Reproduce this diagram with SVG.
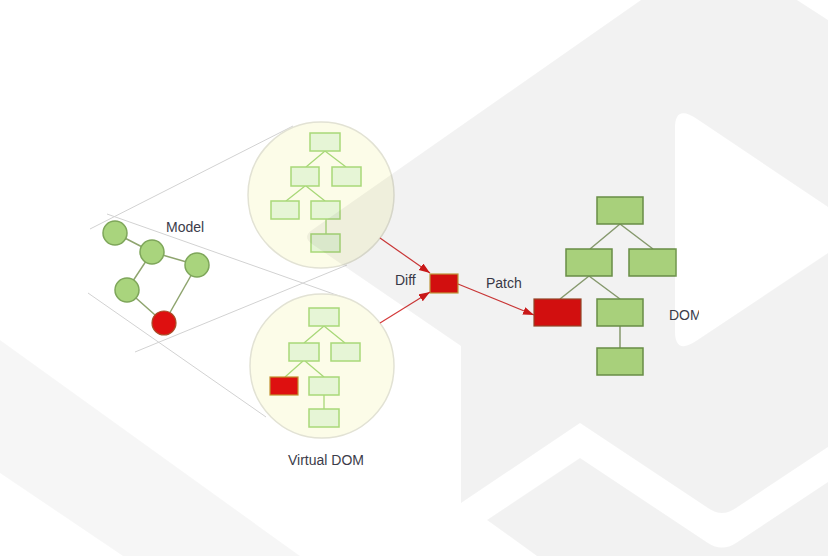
<svg xmlns="http://www.w3.org/2000/svg" width="828" height="556" viewBox="0 0 828 556">
<style>
text{font-family:"Liberation Sans",Arial,sans-serif;font-size:14px;fill:#3c3c4a}
.mc{fill:#a9d47d;stroke:#7ea65a;stroke-width:1.5}
.red{fill:#de1010;stroke:#a8502a;stroke-width:1.2}
.lb{fill:#e6f5d6;stroke:#a8d878;stroke-width:1.5}
.db{fill:#b1dc82;stroke:#6f954b;stroke-width:1.5}
.zoom{fill:#fcfce8;stroke:#e2e2d4;stroke-width:1.5}
.ml{stroke:#8ea46e;stroke-width:1.5;fill:none}
.tl{stroke:#a8d878;stroke-width:1.3;fill:none}
.dl{stroke:#8ea274;stroke-width:1.5;fill:none}
.pl{stroke:#d2d2d2;stroke-width:1;fill:none}
.ar{stroke:#d43a3a;stroke-width:1.2;fill:none;marker-end:url(#ah)}
.wm{fill:#000;fill-opacity:0.05;stroke:none}
</style>
<defs>
<marker id="ah" markerUnits="userSpaceOnUse" markerWidth="12" markerHeight="9" refX="11" refY="4" orient="auto">
<path d="M0,0 L11,4 L0,8 z" fill="#d41a1a"/>
</marker>
<clipPath id="domclip"><rect x="600" y="290" width="99" height="40"/></clipPath>
</defs>
<rect width="828" height="556" fill="#ffffff"/>

<g id="connectors">
<line class="pl" x1="90" y1="229" x2="293" y2="126"/>
<line class="pl" x1="107" y1="214" x2="345" y2="298"/>
<line class="pl" x1="88" y1="293" x2="266" y2="417"/>
<line class="pl" x1="135" y1="352" x2="347" y2="265"/>
<line class="ml" x1="115" y1="233" x2="152" y2="252"/>
<line class="ml" x1="152" y1="252" x2="197" y2="265"/>
<line class="ml" x1="152" y1="252" x2="127" y2="290"/>
<line class="ml" x1="127" y1="290" x2="164" y2="323"/>
<line class="ml" x1="197" y1="265" x2="164" y2="323"/>
</g>

<g id="zoom-upper"><circle class="zoom" cx="321" cy="195" r="73"/></g>
<g id="zoom-lower"><circle class="zoom" cx="322" cy="366" r="72"/></g>

<g id="tree-edges">
<path class="tl" d="M325,151 L306,167 M325,151 L346,167 M305,186 L286,201 M306,186 L325,201 M326,219 L326,234"/>
<path class="tl" d="M324,326 L304,343 M324,326 L345,343 M303,361 L285,377 M305,361 L324,377 M324,395 L324,409"/>
<path class="dl" d="M620,224 L590,249 M620,224 L653,249 M589,276 L560,299 M589,276 L620,299 M620,326 L620,348"/>
</g>

<g id="model">
<g id="m1"><circle class="mc" cx="115" cy="233" r="12"/></g>
<g id="m2"><circle class="mc" cx="152" cy="252" r="12"/></g>
<g id="m3"><circle class="mc" cx="197" cy="265" r="12"/></g>
<g id="m4"><circle class="mc" cx="127" cy="290" r="12"/></g>
<g id="m5"><circle class="red" cx="164" cy="323" r="12"/></g>
<text x="166" y="232">Model</text>
</g>

<g id="vdom-old">
<rect id="u1" class="lb" x="310" y="133" width="30" height="18"/>
<rect id="u2" class="lb" x="291" y="167" width="28" height="19"/>
<rect id="u3" class="lb" x="332" y="167" width="29" height="19"/>
<rect id="u4" class="lb" x="271" y="201" width="28" height="18"/>
<rect id="u5" class="lb" x="311" y="201" width="29" height="18"/>
<rect id="u6" class="lb" x="311" y="234" width="29" height="18"/>
</g>

<g id="vdom-new">
<rect id="v1" class="lb" x="309" y="308" width="30" height="18"/>
<rect id="v2" class="lb" x="289" y="343" width="30" height="18"/>
<rect id="v3" class="lb" x="331" y="343" width="29" height="18"/>
<rect id="v4" class="red" x="270" y="377" width="28" height="18" style="stroke:#c0902e"/>
<rect id="v5" class="lb" x="309" y="377" width="30" height="18"/>
<rect id="v6" class="lb" x="309" y="409" width="30" height="18"/>
<text x="326" y="465" text-anchor="middle">Virtual DOM</text>
</g>

<g id="diff">
<rect class="red" x="430" y="274" width="28" height="19" style="stroke:#c8a040"/>
<text x="395" y="285">Diff</text>
</g>

<g id="arrows">
<line class="ar" x1="380" y1="238" x2="430" y2="273"/>
<line class="ar" x1="380" y1="323" x2="430" y2="292"/>
<line class="ar" x1="458" y1="284" x2="534" y2="315"/>
<text x="486" y="288">Patch</text>
</g>

<g id="dom">
<rect id="d1" class="db" x="597" y="197" width="46" height="27"/>
<rect id="d2" class="db" x="566" y="249" width="46" height="27"/>
<rect id="d3" class="db" x="629" y="249" width="47" height="27"/>
<rect id="d4" class="red" x="534" y="299" width="47" height="27" style="stroke:#9a4a2a"/>
<rect id="d5" class="db" x="597" y="299" width="46" height="27"/>
<rect id="d6" class="db" x="597" y="348" width="46" height="27"/>
<text x="669" y="320" clip-path="url(#domclip)">DOM</text>
</g>

<g id="watermark">
<path class="wm" d="M641,0 L797,0 L828,20 L828,207 L697,119 Q675,104 675,128 L675,331 Q675,355 696,341 L828,253 L828,447 L736,508 Q722,518 708,508 L580,423 L461,503 L461,346 L312,244 Q302,237 312,230 Z"/>
<path class="wm" d="M487,520 L580,458 L708,543 Q722,552 736,543 L828,482 L828,556 L537,556 Z"/>
<path class="wm" style="fill-opacity:0.035" d="M0,340 L300,556 L123,556 L0,473 Z"/>
</g>
</svg>
